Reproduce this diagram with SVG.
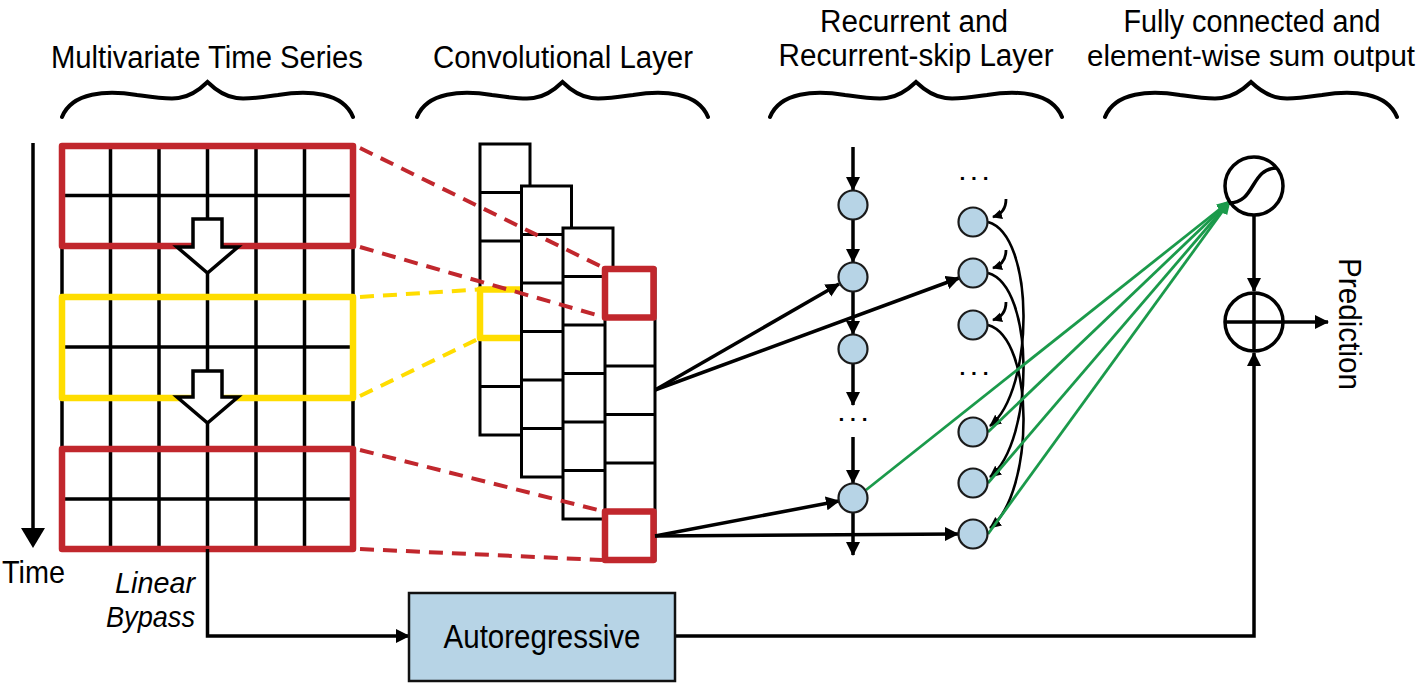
<svg xmlns="http://www.w3.org/2000/svg" width="1422" height="683" viewBox="0 0 1422 683">
<defs>
<style>
.t{font-family:"Liberation Sans",Arial,sans-serif;fill:#000}
.h{font-size:31px;text-anchor:middle}
.gl{stroke:#000;stroke-width:3.5;fill:none}
.cell{fill:#fff;stroke:#000;stroke-width:3}
.red{fill:none;stroke:#C1272D;stroke-width:6.5;stroke-linejoin:round}
.yel{fill:none;stroke:#FFDD00;stroke-width:6.5;stroke-linejoin:round}
.rd{stroke:#C1272D;stroke-width:4;stroke-dasharray:14 9;fill:none}
.yd{stroke:#FFDD00;stroke-width:4;stroke-dasharray:14 9;fill:none}
.brace{fill:none;stroke:#000;stroke-width:4;stroke-linecap:round}
.ar{stroke:#000;stroke-width:3.5;fill:none;marker-end:url(#ah)}
.arc{stroke:#000;stroke-width:2.6;fill:none;marker-end:url(#ah2)}
.sm{stroke:#000;stroke-width:2.8;fill:none;marker-end:url(#ahs)}
.node{fill:#B7D4E6;stroke:#1a1a1a;stroke-width:2.2}
.g{stroke:#1B9A4B;stroke-width:2.8;fill:none;marker-end:url(#ahg)}
.wa{fill:#fff;stroke:#000;stroke-width:3.5}
.op{fill:#fff;stroke:#000;stroke-width:3.5}
.dots{font-size:21px;font-weight:bold;text-anchor:middle}
</style>
<marker id="ah" markerUnits="userSpaceOnUse" markerWidth="16" markerHeight="16" refX="13" refY="7" orient="auto"><path d="M0,0 L14,7 L0,14 z" fill="#000"/></marker>
<marker id="ah2" markerUnits="userSpaceOnUse" markerWidth="14" markerHeight="14" refX="11" refY="5.5" orient="auto"><path d="M0,0 L12,5.5 L0,11 z" fill="#000"/></marker>
<marker id="ahs" markerUnits="userSpaceOnUse" markerWidth="12" markerHeight="12" refX="9" refY="5" orient="auto"><path d="M0,0 L10,5 L0,10 z" fill="#000"/></marker>
<marker id="ahg" markerUnits="userSpaceOnUse" markerWidth="16" markerHeight="14" refX="13" refY="6" orient="auto"><path d="M0,0 L14,6 L0,12 z" fill="#1B9A4B"/></marker>
</defs>
<rect width="1422" height="683" fill="#fff"/>

<g id="headers">
<path class="brace" d="M62 117 C72 92 107 90 137 95 C172 100 186 103 207.5 82 C229 103 243 100 278 95 C308 90 343 92 353 117"/>
<path class="brace" d="M417 117 C427 92 462 90 492 95 C527 100 541 103 562.5 82 C584 103 598 100 633 95 C663 90 698 92 708 117"/>
<path class="brace" d="M770 117 C780 92 815 90 845 95 C880 100 894 103 916 82 C938 103 952 100 987 95 C1017 90 1052 92 1062 117"/>
<path class="brace" d="M1105 117 C1115 92 1150 90 1180 95 C1215 100 1229 103 1251 82 C1273 103 1287 100 1322 95 C1352 90 1387 92 1397 117"/>
<text class="t h" x="207" y="68" textLength="312" lengthAdjust="spacingAndGlyphs">Multivariate Time Series</text>
<text class="t h" x="563" y="68" textLength="260" lengthAdjust="spacingAndGlyphs">Convolutional Layer</text>
<text class="t h" x="914" y="32" textLength="188" lengthAdjust="spacingAndGlyphs">Recurrent and</text>
<text class="t h" x="916" y="66" textLength="275" lengthAdjust="spacingAndGlyphs">Recurrent-skip Layer</text>
<text class="t h" x="1252" y="32" textLength="257" lengthAdjust="spacingAndGlyphs">Fully connected and</text>
<text class="t h" x="1251" y="66" style="font-size:30px" textLength="328" lengthAdjust="spacingAndGlyphs">element-wise sum output</text>
</g>

<g id="time-axis">
<line x1="33" y1="143" x2="33" y2="530" stroke="#000" stroke-width="3.5"/>
<polygon points="21,528 45,528 33,548" fill="#000"/>
<text class="t" x="2" y="583" font-size="32" textLength="63" lengthAdjust="spacingAndGlyphs">Time</text>
</g>

<g id="input-grid">
<g class="gl">
<line x1="62" y1="146" x2="62" y2="549"/>
<line x1="110.5" y1="146" x2="110.5" y2="549"/>
<line x1="159" y1="146" x2="159" y2="549"/>
<line x1="207.5" y1="146" x2="207.5" y2="549"/>
<line x1="256" y1="146" x2="256" y2="549"/>
<line x1="304.5" y1="146" x2="304.5" y2="549"/>
<line x1="353" y1="146" x2="353" y2="549"/>
<line x1="62" y1="195.5" x2="353" y2="195.5"/>
<line x1="62" y1="347" x2="353" y2="347"/>
<line x1="62" y1="499" x2="353" y2="499"/>
</g>
<rect class="red" x="62" y="146" width="291" height="100"/>
<rect class="yel" x="62" y="297" width="291" height="101"/>
<rect class="red" x="62" y="449" width="291" height="100"/>
<polygon class="wa" points="193,219 222,219 222,247 238,247 207.5,273 177,247 193,247"/>
<polygon class="wa" points="193,371 222,371 222,397 238,397 207.5,423 177,397 193,397"/>
</g>

<g id="conv-layer">
<g id="conv-col1">
<rect class="cell" x="480" y="144" width="50" height="291"/>
<path class="cell" d="M480 192.5H530M480 241H530M480 289.5H530M480 338H530M480 386.5H530"/>
<rect class="yel" x="480" y="289.5" width="45" height="48.5"/>
</g>
<g id="conv-col2">
<rect class="cell" x="521.5" y="186" width="50" height="291"/>
<path class="cell" d="M521.5 234.5H571.5M521.5 283H571.5M521.5 331.5H571.5M521.5 380H571.5M521.5 428.5H571.5"/>
</g>
<g id="conv-col3">
<rect class="cell" x="563" y="228" width="50" height="291"/>
<path class="cell" d="M563 276.5H613M563 325H613M563 373.5H613M563 422H613M563 470.5H613"/>
</g>
<g id="conv-col4">
<rect class="cell" x="605" y="269" width="50" height="291"/>
<path class="cell" d="M605 317.5H655M605 366H655M605 414.5H655M605 463H655M605 511.5H655"/>
<rect class="red" x="605" y="269" width="48.5" height="48.5"/>
<rect class="red" x="605" y="511.5" width="48.5" height="48.5"/>
</g>
</g>

<g id="projections">
<line class="rd" x1="360" y1="148" x2="602" y2="267"/>
<line class="rd" x1="360" y1="247" x2="602" y2="316.5"/>
<line class="yd" x1="360" y1="297" x2="478" y2="289.5"/>
<line class="yd" x1="360" y1="396" x2="478" y2="339"/>
<line class="rd" x1="360" y1="450" x2="602" y2="511"/>
<line class="rd" x1="360" y1="549" x2="602" y2="560"/>
</g>

<g id="connectors">
<line class="ar" x1="853" y1="147" x2="853" y2="190"/>
<line class="ar" x1="853" y1="220" x2="853" y2="262"/>
<line class="ar" x1="853" y1="292" x2="853" y2="334"/>
<line class="ar" x1="853" y1="364" x2="853" y2="405"/>
<line class="ar" x1="853" y1="437" x2="853" y2="483"/>
<line class="ar" x1="853" y1="513" x2="853" y2="555"/>
<line class="ar" x1="655" y1="390" x2="839" y2="284"/>
<line class="ar" x1="655" y1="390" x2="959" y2="278"/>
<line class="ar" x1="655" y1="536" x2="839" y2="501"/>
<line class="ar" x1="655" y1="536" x2="958" y2="534"/>
<path class="sm" d="M1006 199 Q1006 213 993 217"/>
<path class="sm" d="M1006 250 Q1006 264 993 268"/>
<path class="sm" d="M1006 302 Q1006 316 993 320"/>
<path class="arc" d="M988 222 C1035 235 1035 390 990 426"/>
<path class="arc" d="M988 273 C1035 286 1035 441 990 477"/>
<path class="arc" d="M988 325 C1035 338 1035 493 990 528"/>
<line class="g" x1="866" y1="490" x2="1230" y2="201"/>
<line class="g" x1="988" y1="432" x2="1230" y2="201"/>
<line class="g" x1="988" y1="483" x2="1230" y2="201"/>
<line class="g" x1="988" y1="534" x2="1230" y2="201"/>
<polyline class="ar" points="207.5,549 207.5,636 409,636"/>
<polyline class="ar" points="675,636 1254,636 1254,353"/>
<line class="ar" x1="1254" y1="215" x2="1254" y2="291"/>
<line class="ar" x1="1283" y1="322" x2="1328" y2="322"/>
</g>

<g id="recurrent-nodes">
<circle class="node" cx="853" cy="205" r="14.5"/>
<circle class="node" cx="853" cy="277" r="14.5"/>
<circle class="node" cx="853" cy="349" r="14.5"/>
<circle class="node" cx="853" cy="498" r="14.5"/>
<text class="t dots" x="853" y="421">. . .</text>
</g>

<g id="skip-nodes">
<circle class="node" cx="973" cy="222" r="14.5"/>
<circle class="node" cx="973" cy="273" r="14.5"/>
<circle class="node" cx="973" cy="325" r="14.5"/>
<circle class="node" cx="973" cy="432" r="14.5"/>
<circle class="node" cx="973" cy="483" r="14.5"/>
<circle class="node" cx="973" cy="534" r="14.5"/>
<text class="t dots" x="974" y="180">. . .</text>
<text class="t dots" x="974" y="375">. . .</text>
</g>

<g id="sigmoid">
<circle class="op" cx="1254" cy="186" r="29"/>
<path d="M1229 203 C1256 203 1250 168 1277 168" fill="none" stroke="#000" stroke-width="3.5"/>
</g>

<g id="sum">
<circle class="op" cx="1254" cy="322" r="29"/>
<path d="M1225 322H1283M1254 293V351" stroke="#000" stroke-width="3.5"/>
</g>

<g id="prediction">
<text class="t" transform="translate(1339,258) rotate(90)" font-size="32" textLength="132" lengthAdjust="spacingAndGlyphs">Prediction</text>
</g>

<g id="linear-bypass">
<text class="t" x="195" y="593" font-size="29" font-style="italic" text-anchor="end" textLength="80" lengthAdjust="spacingAndGlyphs">Linear</text>
<text class="t" x="195" y="627" font-size="29" font-style="italic" text-anchor="end" textLength="89" lengthAdjust="spacingAndGlyphs">Bypass</text>
</g>

<g id="autoregressive">
<rect x="409" y="593" width="266" height="88" fill="#B7D4E6" stroke="#111" stroke-width="2.5"/>
<text class="t" x="542" y="648" font-size="33" text-anchor="middle" textLength="197" lengthAdjust="spacingAndGlyphs">Autoregressive</text>
</g>
</svg>
